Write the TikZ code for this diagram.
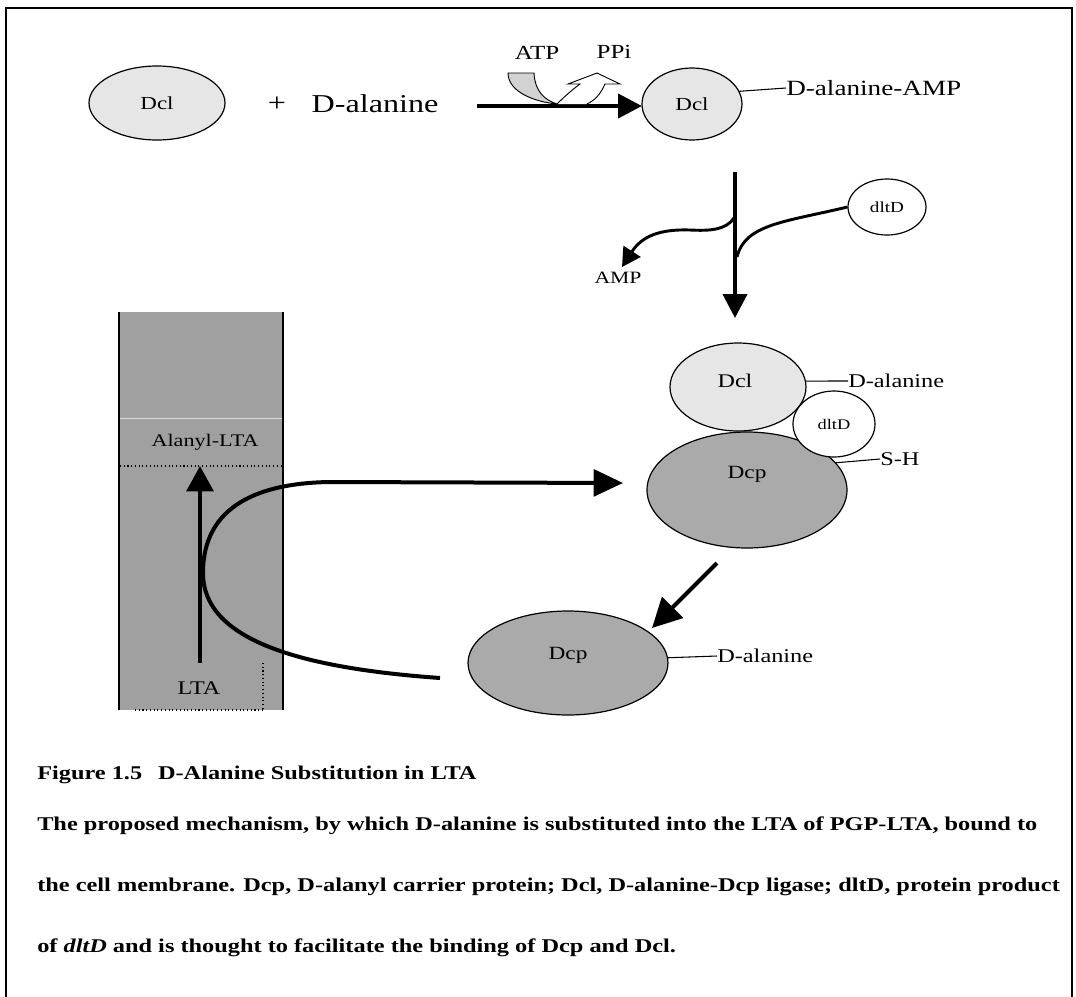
\documentclass[tikz,border=0pt]{standalone}
\usepackage{fontspec}
\setmainfont[FakeStretch=1.25]{Liberation Serif}
\usetikzlibrary{arrows.meta,shapes.geometric,calc}
\definecolor{dclfill}{HTML}{E6E6E6}
\definecolor{dcpfill}{HTML}{AAAAAA}
\definecolor{memfill}{HTML}{A0A0A0}
\definecolor{atpfill}{HTML}{D2D2D2}
\tikzset{
  ell/.style 2 args={ellipse, draw, line width=0.9pt, inner sep=0pt,
    minimum width={#1*1.5pt}, minimum height={#2*1.5pt}},
  txt/.style={inner sep=0pt, font=\fontsize{#1}{#1}\selectfont},
  thinline/.style={line width=0.8pt},
  frameline/.style={line width=1.6pt},
  bigarr/.style={line width=3pt, -{Triangle[length=18pt,width=18pt]}},
  caption/.style={inner sep=0pt, anchor=west, font=\fontsize{14.6}{16}\selectfont\bfseries}
}
\begin{document}
\begin{tikzpicture}[x=0.75pt,y=-0.75pt]
\useasboundingbox (0,0) rectangle (1076,997);
\fill[white] (0,0) rectangle (1076,997);
% frame
\draw[frameline] (6,997) -- (6,8) -- (1072,8) -- (1072,997);

% ---------- top row ----------
\node[ell={68}{37}, fill=dclfill, txt=13.8] (dcl1) at (157,103) {Dcl};
\node[txt=19.3] (plus) at (277,104) {+};
\node[txt=19.3] (dala1) at (375,104) {D-alanine};
\node[ell={50}{36}, fill=dclfill, txt=13.8] (dcl2) at (692,104) {Dcl};
\node[txt=16.3, anchor=west] (amp1) at (786,88) {D-alanine-AMP};
\draw[thinline] (dcl2.15) -- (amp1.west);

\coordinate (r0) at (477,106);
\coordinate (r1) at (642,106);
\draw[bigarr] (r0) -- (r1);

% ATP / PPi
\node[txt=15] (atp) at (537,53) {ATP};
\node[txt=15] (ppi) at (614,52) {PPi};
\filldraw[fill=atpfill, line width=0.7pt] (508,73) -- (534,73)
  .. controls (535,92) and (545,100) .. (557,104)
  .. controls (535,102) and (508,92) .. (508,73) -- cycle;
\filldraw[fill=white, line width=0.7pt] (557,104)
  .. controls (565,96) and (572,90) .. (580,84) -- (568,84) -- (597,73)
  -- (620,84) -- (605,84) .. controls (600,95) and (595,100) .. (587,104);

% ---------- vertical step ----------
\coordinate (v0) at (735,172);
\coordinate (v1) at (735,318);
\draw[bigarr] (v0) -- (v1);
\node[ell={39}{28}, fill=white, txt=11.5] (dltd1) at (887,207) {dltD};
\coordinate (j1) at (737,257);
\draw[line width=2.2pt] (dltd1.west) .. controls (785,222) and (745,224) .. (j1);
\coordinate (k0) at (734,218);
\coordinate (k1) at (622,267);
\draw[line width=2.2pt, -{Triangle[length=14pt,width=15pt]}] (k0)
  .. controls (726,230) and (710,231) .. (690,230)
  .. controls (660,229) and (642,236) .. (k1);
\node[txt=13] (amp) at (618,278) {AMP};

% ---------- complex ----------
\node[ell={68}{44}, fill=dclfill] (dcl3) at (738,387) {};
\node[ell={100}{58}, fill=dcpfill] (dcp3) at (747,490) {};
\node[ell={41}{33}, fill=white, txt=11] (dltd3) at (834,424) {dltD};
\node[txt=14.5] (dcl3t) at (735,381) {Dcl};
\node[txt=14] (dcp3t) at (747,474) {Dcp};
\node[txt=14.6, anchor=west] (dala3) at (848,381) {D-alanine};
\draw[thinline] (dcl3.5) -- (dala3.west);
\node[txt=14.6, anchor=west] (sh) at (880,459) {S-H};
\draw[thinline] (dcp3.17) -- (sh.west);

% ---------- membrane ----------
\fill[memfill] (119,312) rectangle (283,710);
\draw[thinline] (119,312) -- (119,710);
\draw[thinline] (283,312) -- (283,710);
\draw[white, opacity=0.6, line width=0.6pt] (120,418) -- (282,418);
\draw[line width=0.8pt, dotted] (120,466) -- (282,466);
\draw[line width=0.8pt, dotted] (135,710) -- (263,710);
\draw[line width=0.8pt, dotted] (263,663) -- (263,710);
\node[txt=13.3] (alanyl) at (205,442) {Alanyl-LTA};
\node[txt=14.5] (lta) at (199,688) {LTA};
\coordinate (m0) at (200,663);
\coordinate (m1) at (200,466);
\draw[line width=3pt, -{Triangle[length=19pt,width=20pt]}] (m0) -- (m1);

% ---------- C curve ----------
\coordinate (c0) at (440,678);
\coordinate (c1) at (623,483);
\draw[line width=3pt, -{Triangle[length=22pt,width=20pt]}] (c0)
  .. controls (300,668) and (203,640) .. (203,573)
  .. controls (203,505) and (260,483) .. (330,482) -- (c1);

% ---------- lower Dcp ----------
\node[ell={100}{52}, fill=dcpfill] (dcp4) at (568,663) {};
\node[txt=14] (dcp4t) at (568,655) {Dcp};
\node[txt=14.6, anchor=west] (dala4) at (717,656) {D-alanine};
\draw[thinline] (dcp4.3) -- (dala4.west);
\coordinate (d0) at (717,563);
\coordinate (d1) at (652,628);
\draw[line width=3pt, -{Triangle[length=22pt,width=22pt]}] (d0) -- (d1);

% ---------- caption ----------
\node[caption] (cap1) at (37,775) {Figure 1.5\hspace{0.5em} D-Alanine Substitution in LTA};
\node[caption] (cap2) at (37,826) {The proposed mechanism, by which D-alanine is substituted into the LTA of PGP-LTA, bound to};
\node[caption] (cap3) at (37,887) {the cell membrane. Dcp, D-alanyl carrier protein; Dcl, D-alanine-Dcp ligase; dltD, protein product};
\node[caption] (cap4) at (37,948) {of \textit{dltD} and is thought to facilitate the binding of Dcp and Dcl.};
\end{tikzpicture}
\end{document}
